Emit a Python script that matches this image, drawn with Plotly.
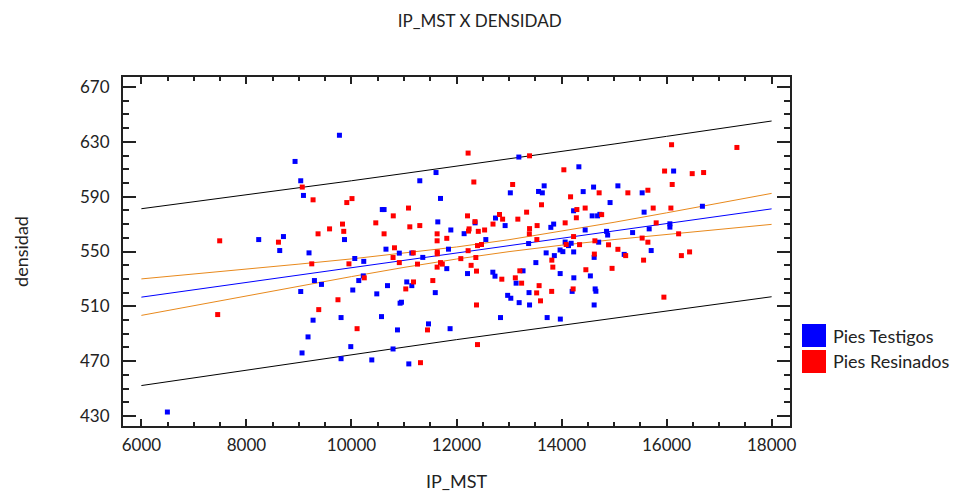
import plotly.graph_objects as go

# ---- data ----
testigos_x = [6495, 8234, 8634, 8705, 8926, 9034, 9034, 9059, 9086, 9173, 9192, 9269, 9295, 9429,
              9771, 9802, 9802, 9867, 9987, 10025, 10063, 10139, 10225, 10234, 10387, 10482, 10572,
              10587, 10621, 10657, 10686, 10792, 10876, 10911, 10926, 10952, 11053, 11092, 11149,
              11149, 11301, 11358, 11467, 11596, 11610, 11644, 11695, 11815, 11848, 11878, 11892,
              12145, 12210, 12354, 12558, 12692, 12733, 12743, 12838, 12926, 12974, 13025, 13034,
              13135, 13187, 13193, 13267, 13373, 13381, 13391, 13511, 13562, 13634, 13669, 13707,
              13726, 13796, 13850, 13863, 13972, 13974, 13977, 14025, 14069, 14133, 14183, 14202,
              14229, 14231, 14234, 14330, 14412, 14450, 14549, 14583, 14610, 14621, 14621, 14640,
              14654, 14686, 14707, 14730, 14857, 14878, 14924, 15073, 15193, 15353, 15535, 15572,
              15669, 15707, 16063, 16063, 16134, 16682]
testigos_y = [432.9, 558.7, 550.7, 560.9, 615.7, 601.6, 520.8, 476.0, 590.9, 487.7, 549.0, 499.9, 528.8, 526.0,
              634.8, 501.8, 471.8, 558.7, 480.6, 521.9, 544.9, 528.8, 532.2, 542.8, 470.9, 519.1, 502.5,
              580.6, 580.6, 551.7, 525.1, 478.9, 492.8, 548.8, 512.3, 513.0, 527.8, 468.0, 548.9,
              525.1, 601.6, 545.7, 497.2, 520.0, 607.6, 571.6, 588.7, 537.5, 551.7, 493.7, 565.7,
              563.0, 533.9, 570.9, 558.7, 534.9, 532.0, 574.4, 501.8, 568.9, 518.0, 592.8, 515.9,
              526.9, 618.9, 512.7, 535.9, 555.8, 520.0, 511.0, 541.9, 593.8, 592.8, 597.9, 549.0,
              501.8, 567.6, 570.0, 547.0, 551.1, 533.9, 500.7, 549.9, 556.9, 554.3, 556.0, 520.9,
              579.7, 549.7, 530.8, 611.8, 593.7, 565.7, 532.2, 576.0, 597.0, 545.7, 511.0, 522.7,
              521.0, 576.0, 556.8, 577.1, 564.7, 562.0, 585.7, 597.9, 547.9, 563.8, 592.8, 578.7,
              566.5, 550.7, 570.2, 567.8, 608.7, 583.0]

resinados_x = [7453, 7491, 8610, 9063, 9244, 9269, 9364, 9377, 9583, 9743, 9829, 9853, 9911, 9952,
               10010, 10107, 10244, 10463, 10621, 10796, 10792, 10819, 10911, 11034, 11086, 11111,
               11177, 11181, 11257, 11301, 11314, 11448, 11549, 11631, 11631, 11634, 11634, 11631,
               11695, 11730, 11815, 12082, 12210, 12221, 12221, 12229, 12240, 12278, 12330, 12352,
               12368, 12381, 12381, 12400, 12400, 12415, 12476, 12535, 12695, 12819, 12863, 12878,
               13069, 13120, 13168, 13206, 13240, 13335, 13391, 13391, 13387, 13526, 13530, 13535,
               13573, 13600, 13619, 13812, 13815, 13834, 14044, 14069, 14088, 14172, 14221, 14229,
               14282, 14292, 14343, 14450, 14463, 14625, 14635, 14716, 14764, 14895, 14962, 15073,
               15221, 15263, 15535, 15562, 15644, 15644, 15745, 15802, 15949, 15962, 16082, 16095,
               16107, 16229, 16282, 16438, 16488, 16705, 17339]
resinados_y = [504.0, 557.8, 556.8, 597.0, 541.0, 587.7, 562.9, 507.6, 566.5, 514.8, 570.0, 564.7, 585.7, 541.0,
               588.6, 493.7, 530.8, 570.9, 562.9, 576.0, 545.6, 552.7, 541.9, 522.7, 581.7, 568.0,
               549.0, 527.8, 540.8, 568.9, 468.9, 492.8, 528.8, 562.9, 557.8, 549.7, 548.3, 538.6,
               541.9, 540.8, 559.6, 544.8, 576.0, 621.8, 550.6, 564.9, 566.5, 539.9, 600.7, 571.8,
               545.6, 535.7, 511.0, 554.3, 482.1, 564.7, 555.1, 565.7, 570.0, 577.0, 529.8, 573.6,
               598.9, 530.8, 573.6, 535.9, 526.9, 578.7, 619.8, 566.7, 562.9, 519.8, 558.7, 568.9,
               525.1, 514.0, 584.1, 520.9, 543.7, 538.6, 609.6, 570.9, 555.1, 589.9, 522.7, 560.9,
               574.6, 580.6, 555.0, 581.7, 536.7, 548.1, 557.8, 592.8, 576.9, 554.9, 537.7, 551.6,
               547.0, 592.8, 559.8, 543.7, 594.7, 556.8, 581.7, 570.9, 516.7, 608.7, 581.7, 627.9,
               598.9, 562.9, 547.0, 549.7, 606.8, 607.6, 625.9]

# fitted model and bands, read at the grid below
grid_x = [6000, 7000, 8000, 9000, 10000, 11000, 12000, 13000, 14000, 15000, 16000, 17000, 18000]
fit_y = [516.7, 522.1, 527.4, 532.8, 538.2, 543.5, 548.9, 554.3, 559.6, 565.0, 570.4, 575.7, 581.1]
conf_hi = [530.0, 533.5, 537.1, 540.8, 544.6, 548.7, 553.3, 558.6, 564.7, 571.3, 578.2, 585.3, 592.4]
conf_lo = [503.4, 510.6, 517.7, 524.8, 531.7, 538.4, 544.5, 549.9, 554.6, 558.7, 562.5, 566.2, 569.8]
pred_hi = [581.2, 586.2, 591.3, 596.4, 601.6, 606.9, 612.2, 617.5, 623.0, 628.4, 634.0, 639.6, 645.2]
pred_lo = [452.2, 457.9, 463.6, 469.2, 474.7, 480.2, 485.7, 491.0, 496.3, 501.6, 506.8, 511.9, 517.0]

x_ticks = [6000, 8000, 10000, 12000, 14000, 16000, 18000]
y_ticks = [430, 470, 510, 550, 590, 630, 670]
series_names = ["Pies Testigos", "Pies Resinados"]
series_colors = ["#0000FF", "#FF0000"]

FONT = "Lato, 'Open Sans', sans-serif"
ORANGE = "#E8891C"

fig = go.Figure()

line_specs = [(pred_hi, "#000000"), (pred_lo, "#000000"),
              (conf_hi, ORANGE), (conf_lo, ORANGE), (fit_y, "#0000FF")]
for ys, col in line_specs:
    fig.add_trace(go.Scatter(x=grid_x, y=ys, mode="lines", showlegend=False,
                             line=dict(color=col, width=1), hoverinfo="skip"))

for xs, ys, name, col in [(testigos_x, testigos_y, series_names[0], series_colors[0]),
                          (resinados_x, resinados_y, series_names[1], series_colors[1])]:
    fig.add_trace(go.Scatter(x=xs, y=ys, mode="markers", name=name, showlegend=False,
                             marker=dict(symbol="square", size=5, color=col,
                                         line=dict(width=0))))

# manual legend (large colour boxes as in the reference)
L, R, T, B = 123, 168, 77, 66
W, H = 958 - L - R, 492 - T - B
def px(xp):
    return (xp - L) / W
def py(yp):
    return (492 - B - yp) / H

legend_rows = [(324, 347, 336), (350, 373, 361)]
for (top, bot, mid), name, col in zip(legend_rows, series_names, series_colors):
    fig.add_shape(type="rect", xref="paper", yref="paper",
                  x0=px(802), x1=px(826), y0=py(bot), y1=py(top),
                  fillcolor=col, line=dict(width=0))
    fig.add_annotation(text=name, xref="paper", yref="paper", x=px(831), y=py(mid),
                       xanchor="left", yanchor="middle", showarrow=False,
                       font=dict(family=FONT, size=18, color="#222"))

axis_common = dict(showgrid=False, zeroline=False, showline=True, linecolor="#222",
                   linewidth=2, mirror="allticks", ticks="inside", tickcolor="#222",
                   tickwidth=2, automargin=False,
                   tickfont=dict(family=FONT, size=17, color="#222"))

fig.update_layout(
    width=958, height=492,
    margin=dict(l=L, r=R, t=T, b=B),
    paper_bgcolor="white", plot_bgcolor="white",
    title=dict(text="IP_MST X DENSIDAD", x=px(457), xanchor="center", y=1 - 21 / 492,
               yanchor="middle", font=dict(family=FONT, size=17, color="#222")),
    xaxis=dict(range=[5650, 18350], tickvals=x_ticks, tickformat="d", ticklen=7,
               minor=dict(dtick=500, ticks="inside", ticklen=4, tickcolor="#222", tickwidth=2),
               title=dict(text="IP_MST", font=dict(family=FONT, size=18, color="#222"), standoff=21),
               ticklabelstandoff=3, **axis_common),
    yaxis=dict(range=[422.7, 677.3], tickvals=y_ticks, ticklen=13,
               minor=dict(dtick=10, ticks="inside", ticklen=6, tickcolor="#222", tickwidth=2),
               title=dict(text="densidad", font=dict(family=FONT, size=18, color="#222"), standoff=47),
               ticklabelstandoff=8, **axis_common),
)

fig.write_html("out.html")
